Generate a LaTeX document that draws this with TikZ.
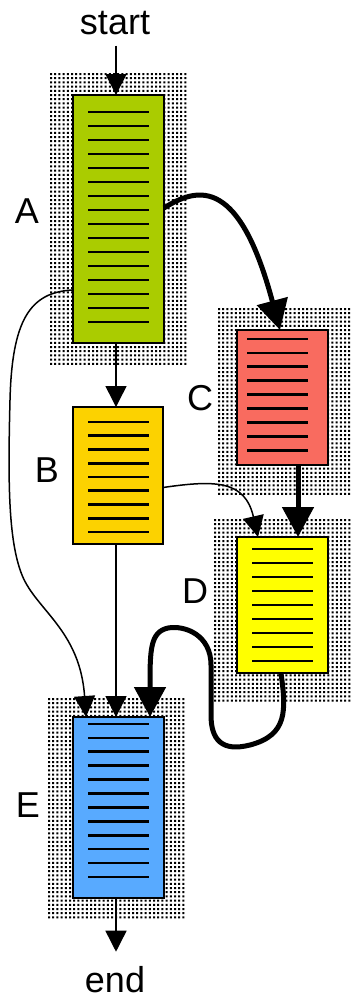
\documentclass[tikz,border=0pt]{standalone}
\usepackage{fontspec}
\setmainfont{Liberation Sans}
\usetikzlibrary{arrows.meta}

\definecolor{boxA}{RGB}{170,204,0}
\definecolor{boxB}{RGB}{252,210,0}
\definecolor{boxC}{RGB}{249,107,95}
\definecolor{boxD}{RGB}{255,255,0}
\definecolor{boxE}{RGB}{88,170,255}

% a block of small square dots: left, top, columns-1, rows-1
\newcommand\stipplebox[4]{%
  \fill[black] \foreach \i in {0,...,#3} {\foreach \j in {0,...,#4} {
    ({#1+4.2*\i},{#2+4.2*\j}) rectangle ++(2,2)}};}

\tikzset{
  doc/.style={draw=black, line width=1.5pt, rectangle, inner sep=0pt, outer sep=0pt},
  textline/.style={line width=2.7pt, black},
  label/.style={inner sep=0pt, anchor=base, font=\fontsize{36}{40}\selectfont},
  thinarrow/.style={line width=1.5pt, -{Triangle[length=21pt,width=21pt]}},
  thickarrow/.style={line width=5pt, line join=round, -{Triangle[length=30pt,width=31pt]}},
}

\begin{document}
\begin{tikzpicture}[x=1pt,y=-1pt]
\useasboundingbox (0,0) rectangle (351,998);

% stippled backgrounds
\stipplebox{50}{73}{32}{69}
\stipplebox{218}{308}{31}{44}
\stipplebox{214}{519}{32}{43}
\stipplebox{48}{698}{32}{52}

% document boxes
\node[doc, fill=boxA, minimum width=91pt, minimum height=248pt] (A) at (118.5,219) {};
\node[doc, fill=boxB, minimum width=90pt, minimum height=137pt] (B) at (118,475.5) {};
\node[doc, fill=boxC, minimum width=91pt, minimum height=135pt] (C) at (282.5,397.5) {};
\node[doc, fill=boxD, minimum width=91pt, minimum height=136pt] (D) at (282.5,605) {};
\node[doc, fill=boxE, minimum width=91pt, minimum height=181pt] (E) at (118.5,807.5) {};

% ruled text lines inside the boxes
\foreach \k in {0,...,15} \draw[textline] (88,{112+\k*14}) -- (149,{112+\k*14});
\foreach \k in {0,...,8}  \draw[textline] (88,{422+\k*13.75}) -- (149,{422+\k*13.75});
\foreach \k in {0,...,8}  \draw[textline] (247,{339+\k*13.9}) -- (308,{339+\k*13.9});
\foreach \k in {0,...,8}  \draw[textline] (252,{549+\k*14}) -- (313,{549+\k*14});
\foreach \k in {0,...,11} \draw[textline] (88,{724+\k*13.9}) -- (149,{724+\k*13.9});

% labels
\node[label] (start) at (115,35) {start};
\node[label] (end) at (115,992) {end};
\node[label] (la) at (27,223) {A};
\node[label] (lb) at (47,482) {B};
\node[label] (lc) at (200,410) {C};
\node[label] (ld) at (195,603) {D};
\node[label] (le) at (28,817) {E};

\coordinate (spine) at (116,0);

% straight flow down the left column
\draw[thinarrow] ([yshift=-10pt]start.south -| spine) -- (spine |- A.north);
\draw[thinarrow] (spine |- A.south) -- (spine |- B.north);
\draw[thinarrow] (spine |- B.south) -- (spine |- E.north);
\draw[thinarrow] (spine |- E.south) -- ([yshift=14pt]end.north -| spine);

% curved thin connectors
\draw[thinarrow] ([yshift=-71pt]A.west)
  .. controls (30,292) and (12,320) .. (10,400)
  .. controls (8,480) and (8,540) .. (22,575)
  .. controls (36,610) and (80,630) .. ([xshift=-32.5pt]E.north);
\draw[thinarrow] ([yshift=-12pt]B.east)
  .. controls (215,480) and (245,480) .. ([xshift=-24.5pt]D.north);

% thick connectors
\draw[thickarrow] ([yshift=11pt]A.east)
  .. controls (200,185) and (240,180) .. ([xshift=-2.5pt]C.north);
\draw[thickarrow] ([xshift=15.5pt]C.south) -- ([xshift=15.5pt]D.north);
\draw[thickarrow] ([xshift=-1.5pt]D.south)
  .. controls (286,710) and (288,735) .. (250,745)
  .. controls (222,752) and (211,740) .. (211,715)
  -- (211,665)
  .. controls (211,635) and (185,625) .. (168,628)
  .. controls (150,632) and (150,650) .. ([xshift=31.5pt]E.north);
\end{tikzpicture}
\end{document}
